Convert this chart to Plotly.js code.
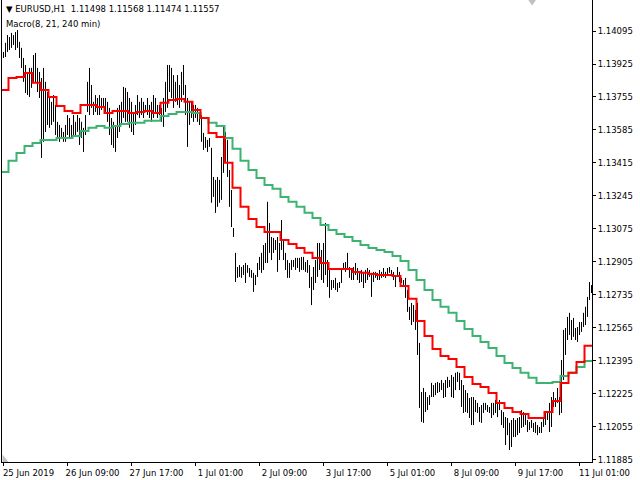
<!DOCTYPE html>
<html>
<head>
<meta charset="utf-8">
<script src="https://cdn.plot.ly/plotly-3.0.1.min.js"></script>
<style>html,body{margin:0;padding:0;background:#fff;}#chart{width:640px;height:480px;}</style>
</head>
<body>
<div id="chart"></div>
<script>
// Hourly EURUSD bars (high / low), 25 Jun 2019 01:00 onwards, one entry per H1 bar
const highs = [
1.13987,1.14034,1.14074,1.14064,1.14085,1.14074,1.14090,1.14100,1.14039,1.14008,
1.13956,1.13920,1.13884,1.13905,1.13905,1.13971,1.13982,1.13905,1.13884,1.13853,
1.13905,1.13833,1.13781,1.13750,1.13730,1.13765,1.13714,1.13627,1.13611,1.13596,
1.13575,1.13611,1.13662,1.13647,1.13611,1.13662,1.13627,1.13662,1.13647,1.13627,
1.13596,1.13662,1.13833,1.13905,1.13817,1.13730,1.13765,1.13750,1.13765,1.13750,
1.13750,1.13750,1.13730,1.13699,1.13647,1.13627,1.13611,1.13699,1.13714,1.13730,
1.13807,1.13802,1.13781,1.13750,1.13730,1.13678,1.13714,1.13765,1.13730,1.13750,
1.13730,1.13714,1.13750,1.13714,1.13730,1.13765,1.13750,1.13714,1.13714,1.13699,
1.13750,1.13833,1.13920,1.13920,1.13905,1.13868,1.13833,1.13868,1.13817,1.13884,
1.13920,1.13817,1.13750,1.13730,1.13730,1.13714,1.13714,1.13699,1.13673,1.13662,
1.13570,1.13549,1.13534,1.13544,1.13493,1.13343,1.13328,1.13343,1.13328,1.13446,
1.13601,1.13575,1.13534,1.13379,1.13276,1.13080,1.12952,1.12879,1.12889,1.12879,
1.12889,1.12900,1.12889,1.12874,1.12864,1.12849,1.12838,1.12900,1.12931,1.12952,
1.12992,1.13003,1.13215,1.13106,1.13034,1.13029,1.13018,1.13034,1.13003,1.13121,
1.13018,1.12952,1.12915,1.12900,1.12915,1.12915,1.12926,1.12926,1.12926,1.12931,
1.12931,1.12905,1.12915,1.12889,1.12828,1.12879,1.12915,1.13003,1.13003,1.12967,
1.13003,1.13106,1.12915,1.12864,1.12812,1.12812,1.12823,1.12797,1.12802,1.12864,
1.12900,1.12905,1.12952,1.12879,1.12874,1.12879,1.12900,1.12874,1.12854,1.12864,
1.12854,1.12864,1.12874,1.12864,1.12849,1.12854,1.12854,1.12849,1.12864,1.12854,
1.12874,1.12854,1.12874,1.12879,1.12864,1.12854,1.12838,1.12879,1.12854,1.12823,
1.12812,1.12823,1.12761,1.12674,1.12694,1.12683,1.12658,1.12694,1.12488,1.12235,
1.12256,1.12235,1.12209,1.12219,1.12282,1.12271,1.12282,1.12287,1.12282,1.12297,
1.12282,1.12297,1.12313,1.12297,1.12323,1.12313,1.12334,1.12339,1.12334,1.12297,
1.12271,1.12245,1.12230,1.12204,1.12209,1.12209,1.12194,1.12179,1.12158,1.12168,
1.12179,1.12179,1.12168,1.12158,1.12179,1.12179,1.12194,1.12179,1.12194,1.12142,
1.12132,1.12106,1.12101,1.12076,1.12091,1.12101,1.12091,1.12101,1.12106,1.12142,
1.12132,1.12127,1.12091,1.12081,1.12091,1.12076,1.12081,1.12065,1.12055,1.12081,
1.12101,1.12127,1.12132,1.12179,1.12209,1.12235,1.12204,1.12256,1.12209,1.12400,
1.12555,1.12565,1.12622,1.12643,1.12606,1.12617,1.12565,1.12570,1.12596,1.12596,
1.12643,1.12674,1.12725,1.12802,1.12786
];
const lows = [
1.13956,1.13961,1.13987,1.13997,1.14008,1.14023,1.13997,1.14008,1.13956,1.13905,
1.13833,1.13776,1.13765,1.13755,1.13802,1.13833,1.13828,1.13781,1.13750,1.13441,
1.13524,1.13575,1.13611,1.13596,1.13611,1.13627,1.13559,1.13544,1.13524,1.13544,
1.13524,1.13524,1.13559,1.13544,1.13544,1.13559,1.13559,1.13575,1.13508,1.13544,
1.13472,1.13559,1.13678,1.13662,1.13699,1.13662,1.13678,1.13662,1.13662,1.13688,
1.13699,1.13678,1.13627,1.13559,1.13508,1.13493,1.13472,1.13544,1.13575,1.13611,
1.13647,1.13627,1.13627,1.13596,1.13575,1.13559,1.13611,1.13662,1.13647,1.13662,
1.13647,1.13678,1.13662,1.13647,1.13627,1.13647,1.13673,1.13647,1.13662,1.13627,
1.13601,1.13678,1.13699,1.13781,1.13750,1.13699,1.13730,1.13714,1.13699,1.13730,
1.13765,1.13662,1.13498,1.13611,1.13647,1.13627,1.13647,1.13627,1.13611,1.13524,
1.13482,1.13493,1.13472,1.13498,1.13210,1.13240,1.13158,1.13189,1.13210,1.13225,
1.13364,1.13421,1.13343,1.13189,1.13085,1.13034,1.12802,1.12823,1.12828,1.12823,
1.12838,1.12797,1.12849,1.12828,1.12823,1.12751,1.12786,1.12828,1.12864,1.12849,
1.12864,1.12900,1.12900,1.12952,1.12915,1.12952,1.12967,1.12854,1.12915,1.12967,
1.12915,1.12864,1.12823,1.12823,1.12864,1.12879,1.12864,1.12874,1.12854,1.12864,
1.12864,1.12854,1.12849,1.12771,1.12683,1.12761,1.12797,1.12828,1.12864,1.12812,
1.12797,1.12838,1.12776,1.12720,1.12761,1.12771,1.12761,1.12751,1.12771,1.12797,
1.12864,1.12854,1.12864,1.12823,1.12812,1.12812,1.12838,1.12812,1.12797,1.12802,
1.12771,1.12797,1.12812,1.12828,1.12725,1.12802,1.12823,1.12812,1.12812,1.12823,
1.12828,1.12823,1.12838,1.12849,1.12838,1.12812,1.12776,1.12838,1.12802,1.12797,
1.12786,1.12720,1.12648,1.12606,1.12580,1.12596,1.12555,1.12426,1.12153,1.12081,
1.12076,1.12132,1.12142,1.12168,1.12209,1.12209,1.12219,1.12230,1.12235,1.12245,
1.12204,1.12209,1.12256,1.12261,1.12209,1.12204,1.12245,1.12287,1.12245,1.12158,
1.12127,1.12132,1.12127,1.12101,1.12065,1.12065,1.12132,1.12127,1.12081,1.12076,
1.12127,1.12142,1.12132,1.12127,1.12101,1.12116,1.12127,1.12106,1.12142,1.12065,
1.12050,1.11962,1.12013,1.11936,1.11952,1.12003,1.12003,1.12013,1.12024,1.12050,
1.12055,1.12065,1.12029,1.12039,1.12050,1.12029,1.12024,1.12013,1.12024,1.12024,
1.12055,1.12065,1.12091,1.12029,1.12055,1.12158,1.12158,1.12179,1.12116,1.12127,
1.12297,1.12426,1.12503,1.12529,1.12503,1.12519,1.12503,1.12493,1.12529,1.12545,
1.12570,1.12580,1.12622,1.12709,1.12745
];
// Macro indicator on 240-min blocks (one value per 4-hour block)
const macroFast = [
1.13791,1.13853,1.13858,1.13879,1.13828,1.13791,1.13755,1.13709,1.13683,1.13673,
1.13714,1.13714,1.13704,1.13673,1.13683,1.13683,1.13673,1.13678,1.13683,1.13673,
1.13725,1.13740,1.13745,1.13730,1.13688,1.13647,1.13570,1.13549,1.13416,1.13287,
1.13189,1.13127,1.13085,1.13060,1.13060,1.13018,1.12997,1.12977,1.12952,1.12926,
1.12900,1.12869,1.12869,1.12869,1.12854,1.12849,1.12843,1.12838,1.12838,1.12833,
1.12781,1.12715,1.12601,1.12524,1.12457,1.12421,1.12405,1.12364,1.12313,1.12276,
1.12261,1.12230,1.12179,1.12153,1.12132,1.12122,1.12101,1.12101,1.12132,1.12189,
1.12282,1.12334,1.12390,1.12473
];
const macroSlow = [
1.13369,1.13426,1.13467,1.13503,1.13518,1.13534,1.13534,1.13544,1.13544,1.13554,
1.13580,1.13596,1.13606,1.13596,1.13606,1.13616,1.13622,1.13622,1.13632,1.13632,
1.13657,1.13668,1.13678,1.13678,1.13673,1.13647,1.13622,1.13606,1.13544,1.13488,
1.13426,1.13379,1.13338,1.13302,1.13282,1.13240,1.13215,1.13189,1.13158,1.13132,
1.13096,1.13070,1.13049,1.13034,1.13013,1.12992,1.12977,1.12967,1.12956,1.12936,
1.12910,1.12864,1.12812,1.12761,1.12709,1.12674,1.12643,1.12601,1.12560,1.12524,
1.12493,1.12462,1.12421,1.12385,1.12359,1.12334,1.12308,1.12282,1.12282,1.12287,
1.12318,1.12334,1.12364,1.12395
];
const xTickBars = [0,32,64,96,128,160,192,224,256,288];
const xTickLabels = ["25 Jun 2019","26 Jun 09:00","27 Jun 17:00","1 Jul 01:00","2 Jul 09:00","3 Jul 17:00","5 Jul 01:00","8 Jul 09:00","9 Jul 17:00","11 Jul 01:00"];
const yTickLabels = ["1.14095","1.13925","1.13755","1.13585","1.13415","1.13245","1.13075","1.12905","1.12735","1.12565","1.12395","1.12225","1.12055","1.11885"];
const headerText = "\u25BC EURUSD,H1  1.11498 1.11568 1.11474 1.11557";
const indicatorText = "Macro(8, 21, 240 min)";

// build bar segments
const bx = [], by = [];
for (let i = 0; i < highs.length; i++) {
  bx.push(i, i, null);
  by.push(lows[i], highs[i], null);
}
const nBars = highs.length;
// 4h blocks: block k starts at bar 4k-1 (bars start at 01:00)
function stepXY(vals) {
  const xs = [], ys = [];
  for (let k = 0; k < vals.length; k++) {
    xs.push(k === 0 ? -0.75 : 4 * k - 1.5);
    ys.push(vals[k]);
  }
  xs.push(nBars - 0.5);
  ys.push(vals[vals.length - 1]);
  return {xs, ys};
}
const fast = stepXY(macroFast), slow = stepXY(macroSlow);

const font = {family: "DejaVu Sans, sans-serif", size: 8.5, color: "#000"};
const data = [
  {type: "scatter", mode: "lines", x: bx, y: by, line: {color: "#000", width: 1}, hoverinfo: "skip", connectgaps: false},
  {type: "scatter", mode: "lines", x: slow.xs, y: slow.ys, line: {color: "#3CB371", width: 2, shape: "hv"}},
  {type: "scatter", mode: "lines", x: fast.xs, y: fast.ys, line: {color: "#FF0000", width: 2, shape: "hv"}}
];
const layout = {
  width: 640, height: 480,
  margin: {l: 2, r: 48, t: 0, b: 18, pad: 0},
  paper_bgcolor: "#fff", plot_bgcolor: "#fff",
  showlegend: false,
  font: font,
  xaxis: {
    range: [-0.75, nBars - 0.75], showgrid: false, zeroline: false,
    showline: true, linecolor: "#000", linewidth: 1,
    tickmode: "array", tickvals: xTickBars, ticktext: xTickLabels,
    ticks: "outside", ticklen: 3, tickcolor: "#000",
    ticklabelshift: 25, tickfont: font, fixedrange: true
  },
  yaxis: {
    side: "right", range: [1.118745, 1.142547], showgrid: false, zeroline: false,
    showline: true, mirror: true, linecolor: "#000", linewidth: 1,
    tickmode: "array", tickvals: yTickLabels.map(Number), ticktext: yTickLabels,
    ticks: "outside", ticklen: 3, tickcolor: "#000", tickfont: font, fixedrange: true
  },
  annotations: [
    {xref: "paper", yref: "paper", x: 0, y: 1, xanchor: "left", yanchor: "top", xshift: 2, yshift: -2,
     text: headerText, showarrow: false, font: font},
    {xref: "paper", yref: "paper", x: 0, y: 1, xanchor: "left", yanchor: "top", xshift: 2, yshift: -17,
     text: indicatorText, showarrow: false, font: font}
  ],
  shapes: [
    {type: "path", xref: "paper", yref: "paper", path: "M 0.892 1 L 0.905 1 L 0.8985 0.988 Z",
     fillcolor: "#c0c0c0", line: {width: 0}},
    {type: "path", xref: "paper", yref: "paper", path: "M 0.001 0 L 0.011 0 L 0.001 0.016 Z",
     fillcolor: "#c0c0c0", line: {width: 0}}
  ]
};
Plotly.newPlot("chart", data, layout, {displayModeBar: false, staticPlot: true});
</script>
</body>
</html>
